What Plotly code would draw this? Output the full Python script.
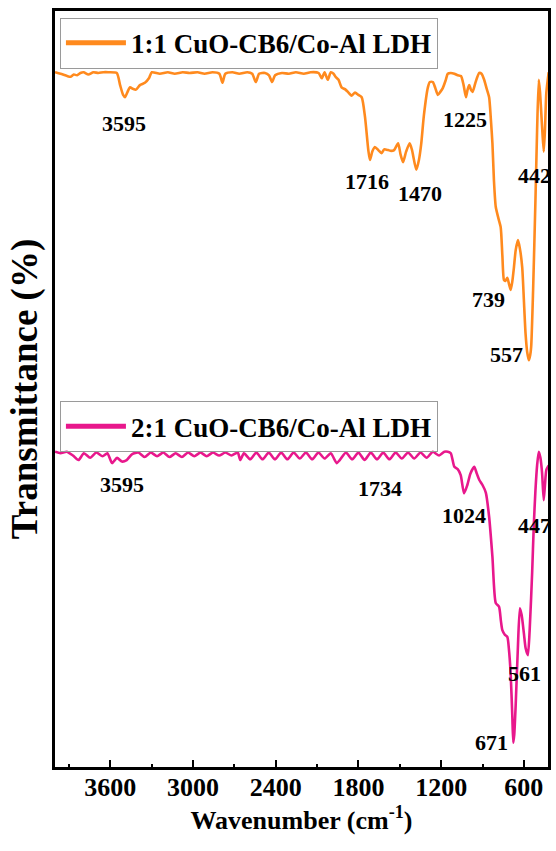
import plotly.graph_objects as go

# ---------------- data ----------------
wn_11 = [4000, 3960, 3912, 3888, 3864, 3840, 3816, 3792, 3758, 3722, 3686, 3650, 3614, 3552,
         3528, 3506, 3492, 3474, 3456, 3434, 3413, 3384, 3348, 3319, 3298, 3240, 3182, 3132,
         3074, 3024, 2966, 2916, 2858, 2808, 2786, 2765, 2713, 2664, 2606, 2570, 2544, 2520,
         2477, 2448, 2426, 2404, 2354, 2304, 2253, 2196, 2146, 2088, 2066, 2045, 2022, 2000,
         1980, 1966, 1944, 1922, 1893, 1872, 1850, 1824, 1800, 1776, 1752, 1728, 1716, 1699,
         1680, 1656, 1632, 1613, 1584, 1563, 1541, 1512, 1494, 1476, 1454, 1428, 1411, 1380,
         1361, 1344, 1325, 1296, 1282, 1260, 1242, 1224, 1206, 1188, 1166, 1152, 1130, 1104,
         1080, 1056, 1037, 1020, 1008, 996, 984, 972, 950, 924, 907, 888, 871, 852, 839, 828,
         817, 804, 785, 768, 756, 744, 734, 720, 708, 696, 684, 672, 659, 643, 630, 612, 600,
         588, 576, 564, 554, 547, 533, 516, 504, 492, 483, 468, 456, 447, 437, 420]
t_11 = [91.9, 91.7, 91.4, 91.3, 91.6, 91.5, 91.8, 91.9, 91.6, 91.9, 91.8, 91.9, 91.9, 91.8,
        90.2, 88.9, 88.6, 89.3, 89.9, 89.7, 89.6, 90.2, 90.5, 91.1, 91.9, 91.7, 91.9, 91.7,
        91.9, 91.8, 91.9, 91.7, 91.9, 91.7, 90.5, 91.7, 91.9, 91.7, 91.9, 91.7, 90.6, 91.7,
        91.8, 91.5, 90.6, 91.5, 91.8, 91.7, 91.9, 91.7, 91.9, 91.8, 91.1, 91.9, 90.9, 91.9,
        91.7, 91.3, 90.9, 89.9, 89.6, 89.2, 88.8, 89.2, 88.9, 88.6, 86.0, 81.6, 80.3, 81.4,
        82.0, 81.6, 81.2, 81.7, 81.6, 81.5, 81.6, 82.5, 81.0, 80.0, 81.4, 82.5, 81.6, 79.0,
        80.3, 82.5, 86.2, 89.9, 90.6, 90.6, 89.8, 88.9, 89.3, 89.8, 90.9, 91.7, 91.8, 91.7,
        91.5, 91.4, 90.2, 88.6, 89.6, 90.2, 89.6, 89.3, 90.6, 91.8, 91.7, 90.9, 89.8, 88.6,
        85.6, 82.5, 77.6, 74.1, 72.6, 71.4, 67.7, 64.4, 64.3, 64.7, 63.9, 63.1, 64.2, 66.1,
        68.4, 69.7, 68.7, 66.1, 61.8, 57.4, 54.9, 53.8, 54.5, 55.6, 63.1, 75.0, 84.3, 90.9,
        89.3, 84.7, 81.4, 84.3, 89.2, 91.9]

wn_21 = [4000, 3960, 3915, 3870, 3830, 3790, 3745, 3700, 3655, 3620, 3586, 3550, 3515, 3480,
         3440, 3395, 3350, 3305, 3260, 3215, 3170, 3125, 3080, 3035, 2990, 2945, 2900, 2855,
         2810, 2765, 2720, 2675, 2657, 2630, 2585, 2540, 2495, 2450, 2405, 2360, 2315, 2270,
         2225, 2180, 2135, 2090, 2045, 2000, 1958, 1935, 1890, 1845, 1800, 1755, 1710, 1665,
         1620, 1575, 1530, 1485, 1440, 1395, 1350, 1305, 1260, 1215, 1176, 1152, 1130, 1104,
         1080, 1058, 1034, 1010, 988, 960, 943, 924, 900, 876, 852, 828, 804, 780, 767, 756,
         738, 720, 708, 696, 684, 677, 670, 660, 644, 629, 616, 600, 587, 571, 558, 540, 528,
         516, 504, 492, 480, 468, 456, 447, 437, 420]
t_21 = [41.7, 41.5, 41.7, 41.2, 40.6, 41.5, 40.9, 41.6, 41.1, 41.5, 40.2, 40.9, 40.4, 40.6,
        41.4, 41.6, 41.0, 41.6, 41.1, 41.6, 41.0, 41.5, 41.0, 41.6, 41.1, 41.6, 41.1, 41.6,
        41.2, 41.6, 41.2, 41.6, 40.6, 41.5, 40.7, 41.6, 40.7, 41.6, 40.7, 41.6, 40.7, 41.6,
        40.8, 41.6, 40.7, 41.6, 40.8, 41.5, 40.2, 40.6, 41.6, 40.7, 41.6, 40.6, 41.6, 40.7,
        41.6, 40.7, 41.6, 40.8, 41.6, 40.8, 41.6, 40.9, 41.7, 41.2, 41.7, 41.7, 41.5, 39.7,
        39.4, 38.6, 36.2, 37.3, 38.8, 39.7, 38.9, 38.0, 37.3, 36.3, 33.1, 27.8, 21.7, 21.2,
        19.4, 18.1, 17.5, 17.2, 15.5, 12.4, 6.9, 3.2, 4.2, 7.9, 15.5, 21.0, 20.1, 17.7, 15.7,
        14.8, 18.1, 25.7, 32.0, 36.6, 39.9, 41.7, 40.9, 38.9, 35.3, 37.3, 39.3, 39.9]

series_names = ["1:1 CuO-CB6/Co-Al LDH", "2:1 CuO-CB6/Co-Al LDH"]
series_colors = ["#FF8A1E", "#E8188C"]

x_ticks = [3600, 3000, 2400, 1800, 1200, 600]
x_minor = [3900, 3300, 2700, 2100, 1500, 900]

peaks_11 = ["3595", "1716", "1470", "1225", "442", "739", "557"]
peaks_11_x = [3499, 1735, 1354, 1030, 526, 857, 727]
peaks_11_y = [85.1, 77.4, 75.9, 85.7, 78.2, 61.8, 54.6]

peaks_21 = ["3595", "1734", "1024", "447", "561", "671"]
peaks_21_x = [3514, 1642, 1037, 526, 598, 835]
peaks_21_y = [37.4, 36.9, 33.3, 31.9, 12.4, 3.2]

# ---------------- figure ----------------
FONT = "Liberation Serif"
fig = go.Figure()
fig.add_trace(go.Scatter(x=wn_11, y=t_11, mode="lines", name=series_names[0], showlegend=True,
                         line=dict(color=series_colors[0], width=2.6, shape="spline", smoothing=0.6),
                         legend="legend"))
fig.add_trace(go.Scatter(x=wn_21, y=t_21, mode="lines", name=series_names[1], showlegend=True,
                         line=dict(color=series_colors[1], width=2.6, shape="spline", smoothing=0.6),
                         legend="legend2"))

for txt, xx, yy in zip(peaks_11 + peaks_21, peaks_11_x + peaks_21_x, peaks_11_y + peaks_21_y):
    fig.add_annotation(x=xx, y=yy, text=txt, showarrow=False, xref="x", yref="y",
                       font=dict(family=FONT, size=22, color="black", weight="bold"))

legend_common = dict(font=dict(family=FONT, size=27, color="black", weight="bold"),
                     bgcolor="rgba(255,255,255,0)", bordercolor="#9a9a9a", borderwidth=1,
                     xanchor="left", yanchor="top", itemwidth=60,
                     tracegroupgap=0, itemsizing="constant", visible=True)
fig.update_layout(
    width=556, height=851, showlegend=True,
    margin=dict(l=55, r=5, t=11, b=84),
    paper_bgcolor="white", plot_bgcolor="white",
    legend=dict(x=0.01, y=0.991, **legend_common),
    legend2=dict(x=0.01, y=0.484, **legend_common),
    xaxis=dict(range=[4000, 425], tickmode="array", tickvals=x_ticks,
               ticks="inside", ticklen=7, tickwidth=2, tickcolor="black",
               minor=dict(tickmode="array", tickvals=x_minor, ticks="inside",
                          ticklen=3, tickwidth=2, tickcolor="black"),
               showline=True, linewidth=2.5, linecolor="black", mirror=True,
               showgrid=False, zeroline=False, ticklabelstandoff=-5,
               tickfont=dict(family=FONT, size=26, color="black", weight="bold"),
               title=dict(text="Wavenumber (cm<sup>-1</sup>)", standoff=0,
                          font=dict(family=FONT, size=26, color="black", weight="bold"))),
    yaxis=dict(range=[0, 100], showticklabels=False, ticks="",
               showline=True, linewidth=2.5, linecolor="black", mirror=True,
               showgrid=False, zeroline=False,
               title=dict(text="Transmittance (%)", standoff=4,
                          font=dict(family=FONT, size=37, color="black", weight="bold"))),
)

fig.write_html("out.html")
